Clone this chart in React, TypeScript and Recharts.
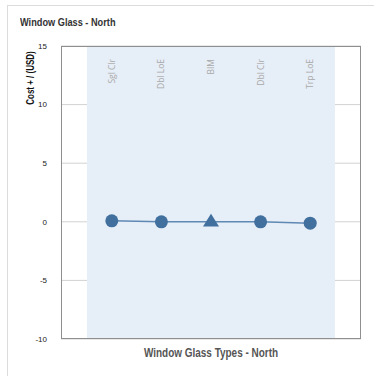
import React from 'react';
import { LineChart, Line, XAxis, YAxis, CartesianGrid, ReferenceArea } from 'recharts';

const categories = ['Sgl Clr', 'Dbl LoE', 'BIM', 'Dbl Clr', 'Trp LoE'];
const costValues = [0.08, 0, 0, 0, -0.12];
const markerShapes = ['circle', 'circle', 'triangle', 'circle', 'circle'];
const yTicks = [-10, -5, 0, 5, 10, 15];

const data = categories.map((name, i) => ({
  idx: i,
  name,
  cost: costValues[i],
  shape: markerShapes[i],
}));

const MARKER = '#41709f';
const NARROW = '"Liberation Sans Narrow", "Arial Narrow", "Liberation Sans", sans-serif';

// marker is a circle, except BIM which is a triangle
const GlassDot = (props: any) => {
  const { cx, cy, payload } = props;
  if (cx == null || cy == null) return null;
  if (payload.shape === 'triangle') {
    const r = 8;
    return (
      <path
        d={`M${cx},${cy - r} L${cx + r},${cy + r * 0.6} L${cx - r},${cy + r * 0.6} Z`}
        fill={MARKER}
      />
    );
  }
  return <circle cx={cx} cy={cy} r={6.5} fill={MARKER} />;
};

const CategoryTick = (props: any) => {
  const { x, payload } = props;
  const label = categories[payload.value] ?? '';
  return (
    <text
      transform={`translate(${x},59) rotate(-90)`}
      textAnchor="end"
      dy="0.35em"
      fill="#a9a9a9"
      fontSize={8.5}
      fontFamily='"Open Sans", sans-serif'
    >
      {label}
    </text>
  );
};

export default function App() {
  return (
    <div style={{ position: 'absolute', left: 0, top: 0, width: 374, height: 376, background: '#fff', overflow: 'hidden' }}>
      <style>{'body { margin: 0; }'}</style>
      {/* card outline */}
      <div
        style={{
          position: 'absolute',
          left: 7,
          top: 5,
          width: 380,
          height: 390,
          borderLeft: '1px solid #dcdcdc',
          borderTop: '1px solid #dcdcdc',
        }}
      />
      <div
        style={{
          position: 'absolute',
          left: 20,
          top: 16,
          transform: 'scaleX(0.8)',
          transformOrigin: 'left center',
          whiteSpace: 'nowrap',
          fontFamily: NARROW,
          fontWeight: 'bold',
          fontSize: 11.5,
          color: '#333',
        }}
      >
        Window Glass - North
      </div>

      <div style={{ position: 'absolute', left: 0, top: 0 }}>
        <LineChart width={374} height={376} data={data} margin={{ top: 46, right: 13, bottom: 37, left: 0 }}>
          <ReferenceArea x1={-0.5} x2={4.5} y1={-10} y2={15} fill="#e6eef7" fillOpacity={1} stroke="none" ifOverflow="visible" />
          <CartesianGrid vertical={false} stroke="#d2d2d2" />
          <XAxis
            dataKey="idx"
            type="number"
            domain={[-0.5, 4.5]}
            ticks={[0, 1, 2, 3, 4]}
            orientation="top"
            mirror
            padding={{ left: 26, right: 26 }}
            axisLine={false}
            tickLine={false}
            tick={<CategoryTick />}
          />
          <YAxis
            width={61}
            domain={[-10, 15]}
            ticks={yTicks}
            axisLine={false}
            tickLine={false}
            tickMargin={8}
            tick={{ fontSize: 8, fill: '#222', fontFamily: '"Liberation Sans", Arial, sans-serif' }}
          />
          <Line
            dataKey="cost"
            stroke="#5f88b4"
            strokeWidth={1.5}
            dot={<GlassDot />}
            activeDot={false}
            isAnimationActive={false}
          />
        </LineChart>
      </div>

      {/* plot frame */}
      <div
        style={{
          position: 'absolute',
          left: 61,
          top: 46,
          width: 300,
          height: 293,
          boxSizing: 'border-box',
          border: '1.5px solid #8f8f8f',
          pointerEvents: 'none',
        }}
      />

      <div
        style={{
          position: 'absolute',
          left: 30,
          top: 78,
          transform: 'translate(-50%, -50%) rotate(-90deg) scaleX(0.8)',
          whiteSpace: 'nowrap',
          fontFamily: NARROW,
          fontWeight: 'bold',
          fontSize: 10,
          color: '#111',
        }}
      >
        Cost + / (USD)
      </div>

      <div
        style={{
          position: 'absolute',
          left: 211,
          top: 353,
          transform: 'translate(-50%, -50%) scaleX(0.83)',
          whiteSpace: 'nowrap',
          fontFamily: NARROW,
          fontWeight: 'bold',
          fontSize: 12,
          color: '#555',
        }}
      >
        Window Glass Types - North
      </div>
    </div>
  );
}
